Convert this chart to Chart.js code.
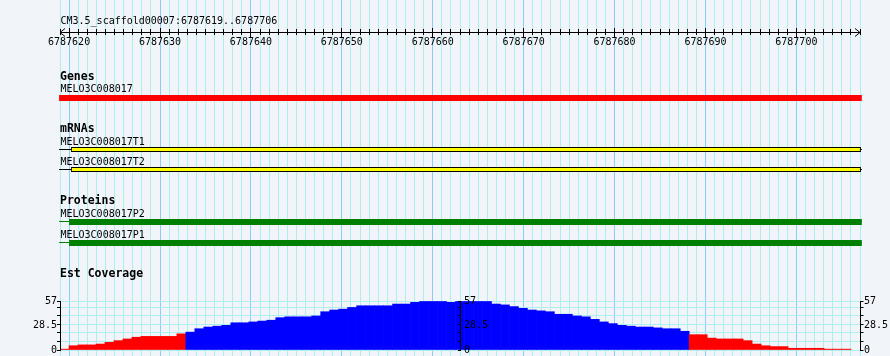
<!DOCTYPE html>
<html>
<head>
<meta charset="utf-8">
<script src="https://cdn.jsdelivr.net/npm/chart.js@4.4.1/dist/chart.umd.min.js"></script>
<style>
  html, body { margin: 0; padding: 0; background: #f1f5fa; }
  canvas { display: block; }
</style>
</head>
<body>
<canvas id="c" width="890" height="356"></canvas>
<script>
// ---------------- data ----------------
const titleText = 'CM3.5_scaffold00007:6787619..6787706';
const viewStart = 6787619;
const viewEnd = 6787707;
const majorTicks = [6787620, 6787630, 6787640, 6787650, 6787660, 6787670, 6787680, 6787690, 6787700];

const trackTitles = ['Genes', 'mRNAs', 'Proteins', 'Est Coverage'];

const geneNames = ['MELO3C008017'];
const geneSpans = [[6787618.9, 6787707.2]];

const mrnaNames = ['MELO3C008017T1', 'MELO3C008017T2'];
const mrnaSpans = [[6787620.2, 6787707.1], [6787620.2, 6787707.1]];

const proteinNames = ['MELO3C008017P2', 'MELO3C008017P1'];
const proteinSpans = [[6787620.0, 6787707.2], [6787620.0, 6787707.2]];

// EST coverage per bin (88 bins across the view)
const coverage = [1, 5, 6, 6, 7, 9, 11, 13, 15, 16, 16, 16, 16, 19, 21, 25, 27, 28, 29, 32,
                  32, 33, 34, 35, 38, 39, 39, 39, 40, 45, 47, 48, 50, 52, 52, 52, 52, 54, 54, 56,
                  57, 57, 57, 56, 57, 57, 57, 57, 54, 53, 51, 49, 47, 46, 45, 42, 42, 40, 39, 36,
                  33, 31, 29, 28, 27, 27, 26, 25, 25, 22, 18, 18, 14, 13, 13, 13, 11, 7, 5, 4,
                  4, 2, 2, 2, 2, 1, 1, 1];
const coverageBinCount = 89;            // bins in the coverage scale domain
const coverageTicks = [0, 10, 20, 30, 40, 50, 57];
const coverageLabels = [0, 28.5, 57];
const coverageThreshold = 20;

// ---------------- layout (track scale = pixel rows) ----------------
const H = 356;
const ROW = {
  title: 24, ruler: 32,
  geneTitle: 80, geneName: [92], gene: [98],
  mrnaTitle: 132, mrnaName: [144.5, 164.5], mrna: [149.5, 169.5],
  protTitle: 203.5, protName: [216.5, 237.5], prot: [222, 243], protLine: [221.5, 242.5],
  covTitle: 277
};
const COV_ZERO_PX = 350, COV_TOP_PX = 301.5;
const covK = (COV_ZERO_PX - COV_TOP_PX) / coverageTicks[coverageTicks.length - 1];
const covMin = -(H - COV_ZERO_PX) / covK;
const covMax = covMin + H / covK;

const COLORS = {
  bg: '#f1f5fa', minorGrid: '#afeeee', majorGrid: '#87cefa',
  gene: '#ff0000', mrna: '#ffff00', protein: '#008000',
  covHigh: '#0000ff', covLow: '#ff0000', ink: '#000000'
};
const FONT = "'DejaVu Sans Mono', monospace";

const bases = [];
for (let p = viewStart; p <= viewEnd; p++) bases.push(p);
const arrowLen = 0.55;   // in bases

// ---------------- plugins ----------------
const bgPlugin = {
  id: 'bg',
  beforeDraw(chart) {
    const c = chart.ctx;
    c.save();
    c.fillStyle = COLORS.bg;
    c.fillRect(0, 0, chart.width, chart.height);
    c.restore();
  }
};

const textPlugin = {
  id: 'browserText',
  afterDraw(chart) {
    const c = chart.ctx;
    const xs = chart.scales.x, ys = chart.scales.y, yc = chart.scales.yc;
    const L = xs.left;
    c.save();
    c.fillStyle = COLORS.ink;
    c.textAlign = 'left';
    c.textBaseline = 'alphabetic';

    c.font = '10px ' + FONT;
    c.fillText(titleText, L + 0.5, ys.getPixelForValue(ROW.title));

    c.font = 'bold 11.5px ' + FONT;
    const titleRows = [ROW.geneTitle, ROW.mrnaTitle, ROW.protTitle, ROW.covTitle];
    trackTitles.forEach((t, i) => c.fillText(t, L, ys.getPixelForValue(titleRows[i])));

    c.font = '10px ' + FONT;
    geneNames.forEach((n, i) => c.fillText(n, L + 0.5, ys.getPixelForValue(ROW.geneName[i])));
    mrnaNames.forEach((n, i) => c.fillText(n, L + 0.5, ys.getPixelForValue(ROW.mrnaName[i])));
    proteinNames.forEach((n, i) => c.fillText(n, L + 0.5, ys.getPixelForValue(ROW.protName[i])));

    // coverage axes: left, middle, right
    const axes = [
      { x: xs.getPixelForValue(viewStart), tick: -3.5, align: 'right', lx: -3.5 },
      { x: xs.getPixelForValue((viewStart + viewEnd) / 2), tick: -2.5, align: 'left', lx: 3.5 },
      { x: xs.getPixelForValue(viewEnd), tick: 3, align: 'left', lx: 3.5 }
    ];
    const topPx = Math.floor(yc.getPixelForValue(coverageTicks[coverageTicks.length - 1]));
    const botPx = Math.floor(yc.getPixelForValue(0)) + 1;
    c.strokeStyle = COLORS.ink;
    c.lineWidth = 1;
    axes.forEach(a => {
      const ax = Math.floor(a.x) + 0.5;
      c.beginPath();
      c.moveTo(ax, topPx);
      c.lineTo(ax, botPx);
      coverageTicks.forEach(v => {
        const py = Math.floor(yc.getPixelForValue(v)) + 0.5;
        c.moveTo(ax, py);
        c.lineTo(ax + a.tick, py);
      });
      c.stroke();
      c.textAlign = a.align;
      c.textBaseline = 'middle';
      c.font = '10px ' + FONT;
      coverageLabels.forEach(v => {
        c.fillText(String(v), ax + a.lx, yc.getPixelForValue(v));
      });
    });
    c.restore();
  }
};

// ---------------- datasets ----------------
const datasets = [
  {
    label: 'mRNAs', type: 'bar', indexAxis: 'y', xAxisID: 'x', yAxisID: 'y',
    data: mrnaSpans.map((s, i) => ({ x: s, y: ROW.mrna[i] })),
    backgroundColor: COLORS.mrna, borderColor: COLORS.ink, borderWidth: 1,
    borderSkipped: false, barThickness: 5, grouped: false, inflateAmount: 0, clip: false
  },
  {
    label: 'Proteins', type: 'bar', indexAxis: 'y', xAxisID: 'x', yAxisID: 'y',
    data: proteinSpans.map((s, i) => ({ x: s, y: ROW.prot[i] })),
    backgroundColor: COLORS.protein, borderWidth: 0,
    barThickness: 6, grouped: false, inflateAmount: 0, clip: false
  },
  {
    label: 'Genes', type: 'bar', indexAxis: 'y', xAxisID: 'x', yAxisID: 'y',
    data: geneSpans.map((s, i) => ({ x: s, y: ROW.gene[i] })),
    backgroundColor: COLORS.gene, borderWidth: 0,
    barThickness: 6, grouped: false, inflateAmount: 0, clip: false
  },
  {
    label: 'Est Coverage', type: 'bar', xAxisID: 'xc', yAxisID: 'yc',
    data: coverage.map((v, i) => ({ x: i + 0.5, y: v })),
    backgroundColor: coverage.map(v => v >= coverageThreshold ? COLORS.covHigh : COLORS.covLow),
    borderWidth: 0, barPercentage: 1, categoryPercentage: 1, grouped: false
  }
];
mrnaSpans.forEach((s, i) => datasets.push({
  label: 'mRNA connector', type: 'line', xAxisID: 'x', yAxisID: 'y',
  data: [{ x: geneSpans[0][0], y: ROW.mrna[i] }, { x: geneSpans[0][1], y: ROW.mrna[i] }],
  borderColor: COLORS.ink, borderWidth: 1, pointRadius: 0, fill: false, clip: false
}));
proteinSpans.forEach((s, i) => datasets.push({
  label: 'protein connector', type: 'line', xAxisID: 'x', yAxisID: 'y',
  data: [{ x: geneSpans[0][0], y: ROW.protLine[i] }, { x: geneSpans[0][1], y: ROW.protLine[i] }],
  borderColor: COLORS.protein, borderWidth: 1, pointRadius: 0, fill: false, clip: false
}));
const rY = ROW.ruler + 0.5;
[[viewStart, arrowLen], [viewEnd, -arrowLen]].forEach(([p, d]) => datasets.push({
  label: 'ruler arrow', type: 'line', xAxisID: 'x', yAxisID: 'y',
  data: [{ x: p + d, y: rY - 4 }, { x: p, y: rY }, { x: p + d, y: rY + 4 }],
  borderColor: COLORS.ink, borderWidth: 1, pointRadius: 0, fill: false, clip: false
}));

// ---------------- chart ----------------
new Chart(document.getElementById('c'), {
  type: 'bar',
  data: { datasets },
  plugins: [bgPlugin, textPlugin],
  options: {
    responsive: false,
    animation: false,
    events: [],
    devicePixelRatio: 1,
    layout: { padding: { left: 60, right: 30, top: 0, bottom: 0 }, autoPadding: false },
    plugins: { legend: { display: false }, tooltip: { enabled: false }, title: { display: false } },
    scales: {
      x: {
        type: 'linear', axis: 'x', min: viewStart, max: viewEnd,
        position: { y: ROW.ruler }, offset: false,
        afterBuildTicks: s => { s.ticks = bases.map(v => ({ value: v })); },
        grid: {
          offset: false, drawOnChartArea: true, drawTicks: false, lineWidth: 1,
          color: ctx => (ctx.tick && majorTicks.includes(ctx.tick.value)) ? COLORS.majorGrid : COLORS.minorGrid
        },
        border: { display: true, color: COLORS.ink, width: 1 },
        ticks: {
          autoSkip: false, maxRotation: 0, minRotation: 0, padding: 4.5, color: COLORS.ink,
          font: { family: FONT, size: 10 },
          callback: v => majorTicks.includes(v) ? String(v) : ''
        }
      },
      xMinor: {
        type: 'linear', axis: 'x', min: viewStart, max: viewEnd,
        position: { y: ROW.ruler - 3 }, offset: false,
        afterBuildTicks: s => { s.ticks = bases.map(v => ({ value: v })); },
        grid: { offset: false, drawOnChartArea: false, drawTicks: true, tickLength: 6, tickColor: COLORS.ink, tickWidth: 1 },
        border: { display: false },
        ticks: { display: false, autoSkip: false }
      },
      xMajor: {
        type: 'linear', axis: 'x', min: viewStart, max: viewEnd,
        position: { y: ROW.ruler - 4 }, offset: false,
        afterBuildTicks: s => { s.ticks = majorTicks.map(v => ({ value: v })); },
        grid: { offset: false, drawOnChartArea: false, drawTicks: true, tickLength: 9, tickColor: COLORS.ink, tickWidth: 1 },
        border: { display: false },
        ticks: { display: false, autoSkip: false }
      },
      xc: {
        type: 'linear', axis: 'x', min: 0, max: coverageBinCount, display: false, offset: false,
        grid: { offset: false }
      },
      y: {
        type: 'linear', axis: 'y', min: 0, max: H, reverse: true, display: false,
        offset: false, grid: { offset: false }
      },
      yc: {
        type: 'linear', axis: 'y', min: covMin, max: covMax,
        position: { x: viewStart }, offset: false,
        afterBuildTicks: s => { s.ticks = coverageTicks.map(v => ({ value: v })); },
        grid: { offset: false, color: COLORS.minorGrid, drawTicks: false, drawOnChartArea: true, lineWidth: 1 },
        border: { display: false },
        ticks: { display: false }
      }
    }
  }
});
</script>
</body>
</html>
